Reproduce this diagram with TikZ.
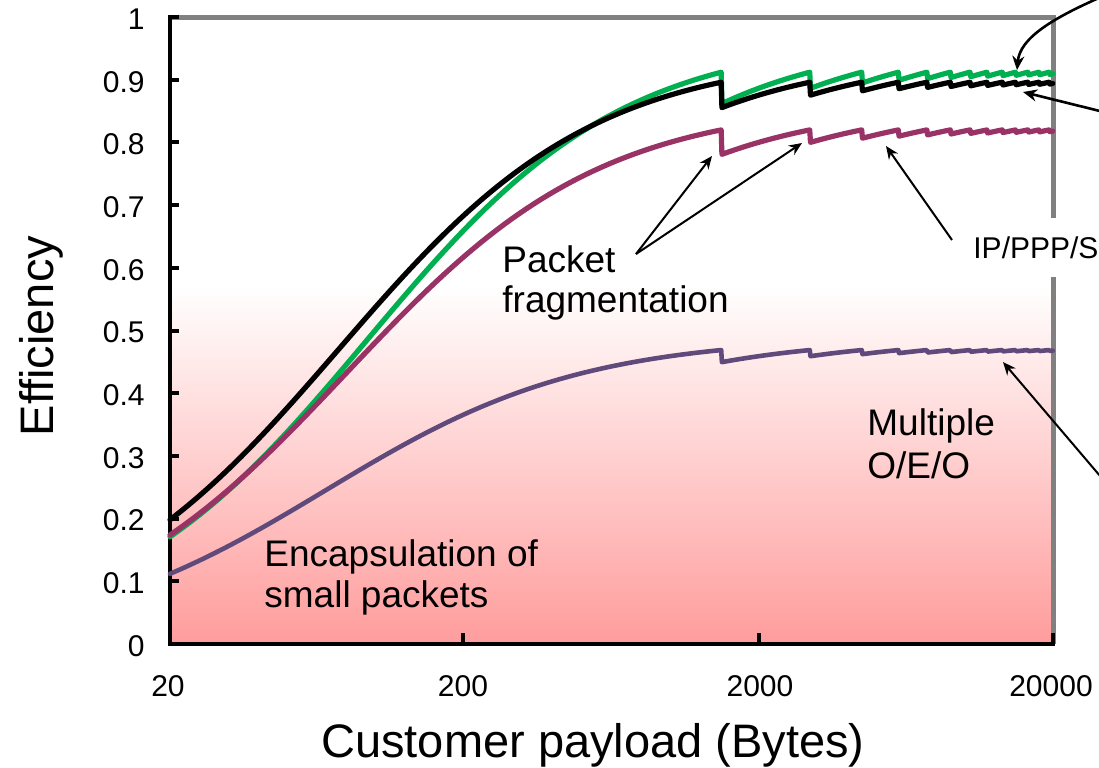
\documentclass[tikz,border=0pt]{standalone}
\usepackage{fontspec}
\setmainfont{Liberation Sans}
\usetikzlibrary{arrows.meta}
\definecolor{cgreen}{RGB}{0,176,80}
\definecolor{cmag}{RGB}{153,51,102}
\definecolor{cpur}{RGB}{96,74,123}
\definecolor{cgray}{RGB}{128,128,128}
\definecolor{cpink}{RGB}{255,156,156}
\begin{document}
\begin{tikzpicture}[x=0.5pt,y=-0.5pt,
  declare function={
    effL(\pp,\cc,\hh)=\cc*\pp/(\pp+ceil(\pp/75)*\hh/20);
    eff(\uu,\cc,\hh)=effL(pow(10,\uu),\cc,\hh);
  },
  curve/.style={line width=2.6pt,line join=round,line cap=round},
  ticklab/.style={font=\fontsize{15}{18}\selectfont,inner sep=0pt},
  titlelab/.style={font=\fontsize{23.5}{28}\selectfont,inner sep=0pt},
  annot/.style={font=\fontsize{18.5}{22}\selectfont,inner sep=0pt,anchor=base west},
  arr/.style={-{Stealth[length=6.5pt,width=5.5pt]},line width=1pt},
  arrb/.style={-{Stealth[length=7pt,width=6pt]},line width=1.3pt},
  ipbox/.style={fill=white,font=\fontsize{15}{18}\selectfont,inner xsep=10.5pt,inner ysep=0pt,minimum height=29.5pt,anchor=west},
]
\useasboundingbox (0,0) rectangle (1099,767);
% background gradient
\shade[top color=white,bottom color=cpink] (170,285) rectangle (1053,644);
% frame
\draw[cgray,line width=2.5pt] (170,17) -- (1053,17) -- (1053,644);
\draw[black,line width=2.2pt,line join=miter] (170,15) -- (170,644) -- (1054.5,644);
\foreach \k in {1,...,10}
  \draw[black,line width=2pt] (170,{644-62.7*\k}) -- (179,{644-62.7*\k});
\foreach \xx in {463,759,1053}
  \draw[black,line width=2pt] (\xx,644) -- (\xx,633);
% tick labels
\foreach \k/\lab in {0/0,1/0.1,2/0.2,3/0.3,4/0.4,5/0.5,6/0.6,7/0.7,8/0.8,9/0.9,10/1}
  \node[ticklab,anchor=east] (yl\k) at (145,{646-62.7*\k}) {\lab};
\node[ticklab] (xl1) at (168,686) {20};
\node[ticklab] (xl2) at (463,686) {200};
\node[ticklab] (xl3) at (760,686) {2000};
\node[ticklab] (xl4) at (1051,686) {20000};
% axis titles
\node[titlelab] (xt) at (593,745) {Customer payload (Bytes)};
\node[titlelab,rotate=90] (yt) at (41,336) {Efficiency};
% curves
\draw[curve,cgreen] plot[domain=0:3,samples=1201] ({170+294.3*\x},{644-627*eff(\x,0.969,93.3)});
\draw[curve,black] plot[domain=0:3,samples=1201] ({170+294.3*\x},{644-627*eff(\x,0.941,75)});
\draw[curve,cmag] plot[domain=0:3,samples=1201] ({170+294.3*\x},{644-627*eff(\x,0.8635,79.3)});
\draw[curve,cpur,line width=2.3pt] plot[domain=0:3,samples=1201] ({170+294.3*\x},{644-627*eff(\x,0.49,67.5)});
% annotations
\node[annot] (pk1) at (502,272) {Packet};
\node[annot] (pk2) at (502,312) {fragmentation};
\node[annot] (en1) at (264,566) {Encapsulation of};
\node[annot] (en2) at (264,607) {small packets};
\node[annot] (mo1) at (867,435) {Multiple};
\node[annot] (mo2) at (867,478) {O/E/O};
\coordinate (pft) at (636,254);
\coordinate (pa1) at (712,156);
\coordinate (pa2) at (802,143);
\draw[arr] (pft) -- (pa1);
\draw[arr] (pft) -- (pa2);
\node[ipbox] (ip) at (952,247.5) {IP/PPP/SDH};
\coordinate (ipa) at (886,146);
\draw[arr] ([yshift=3.75pt]ip.west) -- (ipa);
\coordinate (s1) at (1108,-6);
\coordinate (t1) at (1017,70);
\draw[arrb] (s1) .. controls (1052,18) and (1020,38) .. (t1);
\coordinate (s2) at (1112,114);
\coordinate (t2) at (1023,92);
\draw[arrb] (s2) -- (t2);
\coordinate (s3) at (1112,490);
\coordinate (t3) at (1003,362);
\draw[arr] (s3) -- (t3);
\end{tikzpicture}
\end{document}
